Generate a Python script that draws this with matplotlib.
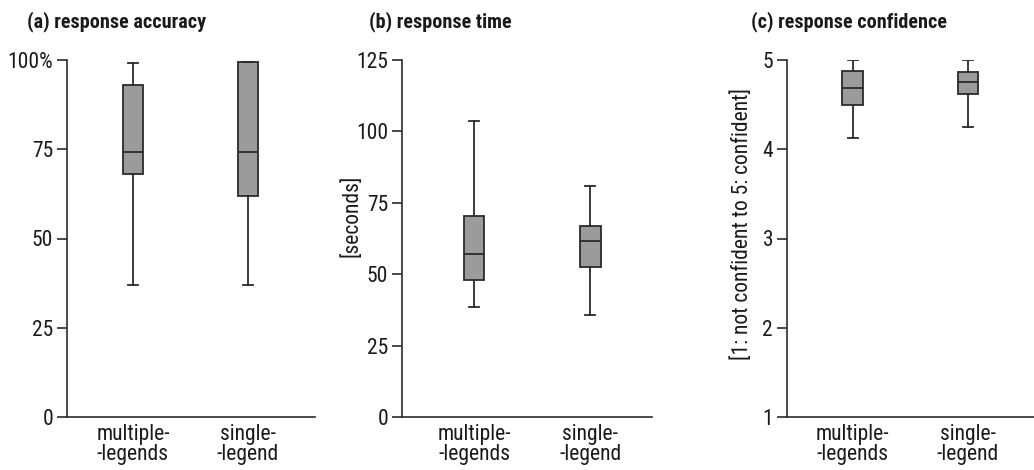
import matplotlib
matplotlib.use("Agg")
import matplotlib.pyplot as plt

plt.rcParams["font.family"] = ["Roboto Condensed", "DejaVu Sans"]

groups = ["multiple-\n-legends", "single-\n-legend"]

# five-number summaries per condition: low whisker, Q1, median, Q3, high whisker
acc_low = [37.0, 37.0]
acc_q1 = [68.1, 62.0]
acc_med = [74.3, 74.3]
acc_q3 = [92.9, 99.4]
acc_high = [99.2, 99.4]

time_low = [38.4, 35.8]
time_q1 = [48.0, 52.5]
time_med = [57.0, 61.5]
time_q3 = [70.5, 66.8]
time_high = [103.5, 80.8]

conf_low = [4.13, 4.25]
conf_q1 = [4.50, 4.616]
conf_med = [4.686, 4.75]
conf_q3 = [4.877, 4.87]
conf_high = [5.0, 5.0]

dark = "#2b2b2b"
fill = "#9b9b9b"
txt = "#1a1a1a"
fs = 15.5


def stats(low, q1, med, q3, high):
    return [dict(whislo=a, q1=b, med=c, q3=d, whishi=e, fliers=[])
            for a, b, c, d, e in zip(low, q1, med, q3, high)]


def draw_panel(ax, st, ylim, yticks, yticklabels, xlim):
    ax.bxp(st, positions=[1, 2], widths=0.174, patch_artist=True,
           showfliers=False,
           boxprops=dict(facecolor=fill, edgecolor=dark, linewidth=1.3),
           medianprops=dict(color=dark, linewidth=1.3),
           whiskerprops=dict(color=dark, linewidth=1.3),
           capprops=dict(color=dark, linewidth=1.3))
    ax.set_ylim(*ylim)
    ax.set_xlim(*xlim)
    ax.set_yticks(yticks)
    ax.set_yticklabels(yticklabels)
    ax.set_xticks([1, 2])
    ax.set_xticklabels(groups, linespacing=0.95)
    for s in ("top", "right"):
        ax.spines[s].set_visible(False)
    for s in ("left", "bottom"):
        ax.spines[s].set_color(dark)
        ax.spines[s].set_linewidth(1.2)
    ax.tick_params(axis="y", direction="out", length=7, width=1.2,
                   color=dark, labelsize=fs, pad=3, labelcolor=txt)
    ax.tick_params(axis="x", length=0, labelsize=fs, pad=5, labelcolor=txt)


W, H = 1034, 470
fig = plt.figure(figsize=(W / 100, H / 100), dpi=100)
bottom = 1 - 417 / H
height = (417 - 60) / H

ax1 = fig.add_axes([67 / W, bottom, 248 / W, height])
ax2 = fig.add_axes([402 / W, bottom, 250 / W, height])
ax3 = fig.add_axes([787 / W, bottom, 247 / W, height])

draw_panel(ax1, stats(acc_low, acc_q1, acc_med, acc_q3, acc_high),
           (0, 100), [0, 25, 50, 75, 100], ["0", "25", "50", "75", "100%"],
           (0.426, 2.583))
draw_panel(ax2, stats(time_low, time_q1, time_med, time_q3, time_high),
           (0, 125), [0, 25, 50, 75, 100, 125],
           ["0", "25", "50", "75", "100", "125"], (0.379, 2.53))
draw_panel(ax3, stats(conf_low, conf_q1, conf_med, conf_q3, conf_high),
           (1, 5), [1, 2, 3, 4, 5], ["1", "2", "3", "4", "5"],
           (0.433, 2.57))

fig.text(352 / W, 1 - 216 / H, "[seconds]", rotation=90, ha="center",
         va="center", fontsize=fs, color=txt)
fig.text(742 / W, 1 - 224 / H, "[1: not confident to 5: confident]",
         rotation=90, ha="center", va="center", fontsize=fs, color=txt)

title_y = 1 - 22 / H
fig.text(27 / W, title_y, "(a) response accuracy", fontsize=14.5,
         fontweight="bold", va="center", color=txt)
fig.text(369 / W, title_y, "(b) response time", fontsize=14.5,
         fontweight="bold", va="center", color=txt)
fig.text(751 / W, title_y, "(c) response confidence", fontsize=14.5,
         fontweight="bold", va="center", color=txt)

fig.savefig("out.png", dpi=100)
